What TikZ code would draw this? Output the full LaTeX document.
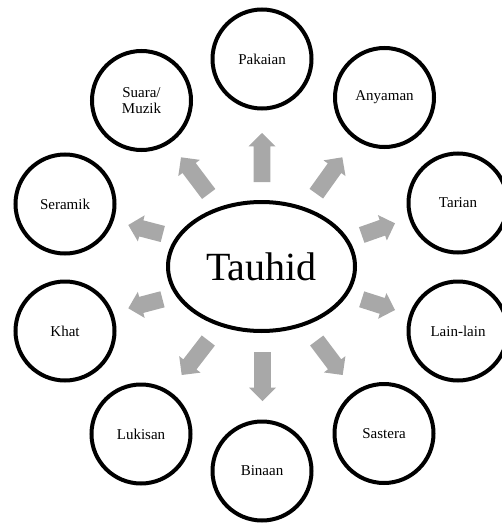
\documentclass[tikz,border=0pt]{standalone}
\usepackage{fontspec}
\setmainfont{Liberation Serif}
\usetikzlibrary{calc,shapes.geometric}
\definecolor{arrowgray}{RGB}{168,168,168}
\tikzset{
  bubble/.style={circle, draw=black, line width=4pt, minimum size=99pt, inner sep=0pt,
    align=center, font=\fontsize{15}{16.5}\selectfont},
  hub/.style={ellipse, draw=black, line width=4pt, minimum width=187pt, minimum height=129pt,
    inner sep=0pt, font=\fontsize{40}{44}\selectfont},
  blockfill/.style={fill=arrowgray, draw=none}
}
\newcommand\blockarrow[2]{%
  \coordinate (#1h) at ($(#2)!13.4pt!(#1)$);
  \path[blockfill] ($(#1)!8.3pt!90:(#2)$) -- ($(#1h)!8.3pt!90:(#2)$) -- ($(#1h)!13.5pt!90:(#2)$)
    -- (#2) -- ($(#1h)!13.5pt!-90:(#2)$) -- ($(#1h)!8.3pt!-90:(#2)$) -- ($(#1)!8.3pt!-90:(#2)$) -- cycle;}
\begin{document}
\begin{tikzpicture}[x=1pt,y=-1pt]
\useasboundingbox (0,0) rectangle (502,524);
% centre
\node[hub] (tauhid) at (261.5,266.5) {Tauhid};
% satellites
\node[bubble] (pakaian) at (262,59) {Pakaian};
\node[bubble] (anyaman) at (384.5,97.5) {Anyaman};
\node[bubble] (tarian) at (458,203) {Tarian};
\node[bubble] (lain) at (458,331) {Lain-lain};
\node[bubble] (sastera) at (384,433.5) {Sastera};
\node[bubble] (binaan) at (262,471) {Binaan};
\node[bubble] (lukisan) at (141,434) {Lukisan};
\node[bubble] (khat) at (65,331) {Khat};
\node[bubble] (seramik) at (65,204) {Seramik};
\node[bubble] (suara) at (141.5,100.5) {Suara/\\Muzik};
% arrow end points
\coordinate (a1s) at (262,182);   \coordinate (a1e) at (262,133);
\coordinate (a2s) at (316.3,193.7); \coordinate (a2e) at (342.3,157.3);
\coordinate (a3s) at (361.7,235); \coordinate (a3e) at (395,223.3);
\coordinate (a4s) at (361.7,299.3); \coordinate (a4e) at (395,310);
\coordinate (a5s) at (316.7,340.5); \coordinate (a5e) at (342.7,375);
\coordinate (a6s) at (262.5,352); \coordinate (a6e) at (262.5,401);
\coordinate (a7s) at (208.3,340.5); \coordinate (a7e) at (181.7,375);
\coordinate (a8s) at (162.5,299.3); \coordinate (a8e) at (128.3,308.3);
\coordinate (a9s) at (162.8,234); \coordinate (a9e) at (128.3,225);
\coordinate (a10s) at (208.7,194); \coordinate (a10e) at (181,157.3);
\blockarrow{a1s}{a1e}
\blockarrow{a2s}{a2e}
\blockarrow{a3s}{a3e}
\blockarrow{a4s}{a4e}
\blockarrow{a5s}{a5e}
\blockarrow{a6s}{a6e}
\blockarrow{a7s}{a7e}
\blockarrow{a8s}{a8e}
\blockarrow{a9s}{a9e}
\blockarrow{a10s}{a10e}
\end{tikzpicture}
\end{document}
